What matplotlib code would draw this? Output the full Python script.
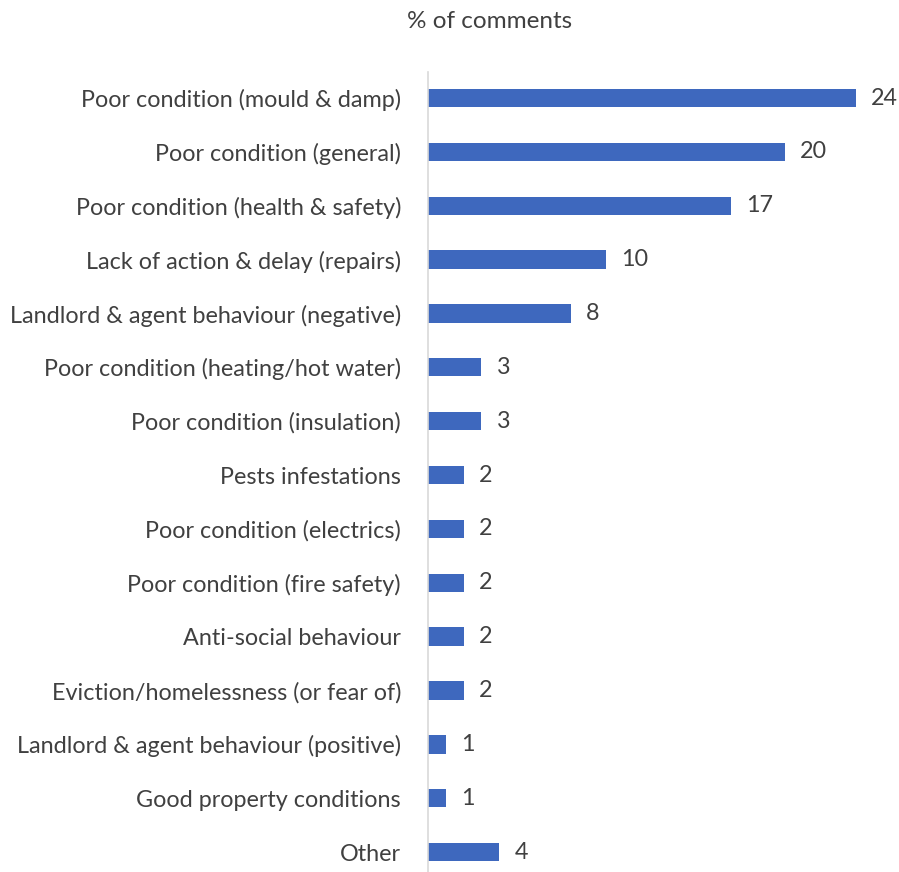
import matplotlib
matplotlib.use("Agg")
import matplotlib.pyplot as plt

categories = [
    "Poor condition (mould & damp)",
    "Poor condition (general)",
    "Poor condition (health & safety)",
    "Lack of action & delay (repairs)",
    "Landlord & agent behaviour (negative)",
    "Poor condition (heating/hot water)",
    "Poor condition (insulation)",
    "Pests infestations",
    "Poor condition (electrics)",
    "Poor condition (fire safety)",
    "Anti-social behaviour",
    "Eviction/homelessness (or fear of)",
    "Landlord & agent behaviour (positive)",
    "Good property conditions",
    "Other",
]
values = [24, 20, 17, 10, 8, 3, 3, 2, 2, 2, 2, 2, 1, 1, 4]

plt.rcParams["font.family"] = ["Lato", "DejaVu Sans"]
text_color = "#404040"
bar_color = "#3E68BE"

W, H = 899, 872
fig = plt.figure(figsize=(W / 100, H / 100), dpi=100)
ax = fig.add_axes([428 / W, 0.0, (891.6 - 428) / W, 1 - 72 / H])

pos = list(range(len(categories)))
ax.barh(pos, values, height=0.34, color=bar_color)
for p, v in zip(pos, values):
    ax.text(v + 0.85, p, str(v), va="center", ha="left", fontsize=16.8, color=text_color)

ax.set_xlim(0, 26)
ax.set_ylim(14.37, -0.483)
ax.set_yticks(pos)
ax.set_yticklabels(categories, fontsize=16.8, color=text_color)
ax.tick_params(axis="y", length=0, pad=19.5)
ax.set_xticks([])
for s in ["top", "right", "bottom"]:
    ax.spines[s].set_visible(False)
ax.spines["left"].set_color("#D9D9D9")
ax.spines["left"].set_linewidth(1.2)

fig.text(490 / W, 1 - 22 / H, "% of comments", ha="center", va="center",
         fontsize=17.5, color=text_color)

fig.savefig("out.png", dpi=100)
